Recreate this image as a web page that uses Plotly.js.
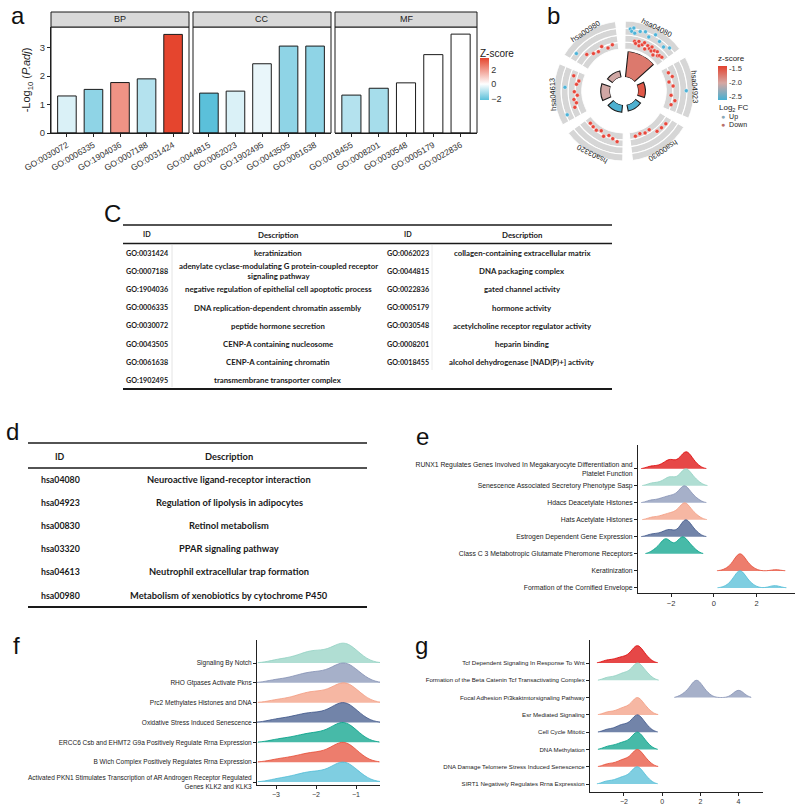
<!DOCTYPE html>
<html><head><meta charset="utf-8">
<script src="https://cdn.plot.ly/plotly-3.0.1.min.js"></script>
<style>html,body{margin:0;padding:0;background:#fff}#chart{width:800px;height:806px}</style>
</head><body><div id="chart"></div>
<script>
const W=800,H=806;
const px=x=>x/W, py=y=>1-y/H;

// ---------- Panel a data ----------
const bpTerms=['GO:0030072','GO:0006335','GO:1904036','GO:0007188','GO:0031424'];
const bpLogP=[1.30,1.53,1.77,1.90,3.46];
const bpZ=[-0.5,-1.5,2.1,-1.0,3.6];
const ccTerms=['GO:0044815','GO:0062023','GO:1902495','GO:0043505','GO:0061638'];
const ccLogP=[1.40,1.47,2.43,3.05,3.05];
const ccZ=[-2.2,-0.5,-0.3,-1.5,-1.5];
const mfTerms=['GO:0018455','GO:0008201','GO:0030548','GO:0005179','GO:0022836'];
const mfLogP=[1.33,1.57,1.76,2.75,3.47];
const mfZ=[-1.0,-1.2,0.0,0.0,0.0];
const facetNames=['BP','CC','MF'];

// ---------- Panel b data ----------
const keggIds=['hsa04080','hsa04923','hsa00830','hsa03320','hsa04613','hsa00980'];
const keggZ=[-1.75,-1.55,-2.6,-2.6,-2.05,-2.05];
const lfc04080=[1.8,1.2,2.2,0.8,-1.5,-2.0,1.6,-1.2,-2.4,2.0,-1.8,-1.0,1.0,-2.6,-1.4,2.4,-1.9,-1.1,-2.2,1.4,-1.6,-2.8,-1.3,0.9,-2.1,-1.7,1.9,-1.5];
const lfc04923=[-2.3,-1.6,-2.9,-1.9,1.8,-2.5,-1.2,-2.0];
const lfc00830=[-0.8,-1.0,-1.1,-2.8,-2.6,-3.0,-2.7];
const lfc03320=[-1.4,-2.0,-2.6,-1.8,-2.9,-2.3,-2.5,-2.7];
const lfc04613=[1.6,-1.2,-2.0,-1.5,-2.6,-1.8,0.9,-2.3,-2.8,-1.0];
const lfc00980=[1.3,-1.1,-2.2,-2.6,-1.8,-2.9,-2.4];
const keggLfc=[lfc04080,lfc04923,lfc00830,lfc03320,lfc04613,lfc00980];
const trackBreaks=[-4,-2,0,2,4];

// ---------- Panel C data ----------
const cIdsL=['GO:0031424','GO:0007188','GO:1904036','GO:0006335','GO:0030072','GO:0043505','GO:0061638','GO:1902495'];
const cDescL=['keratinization','adenylate cyclase-modulating G protein-coupled receptor<br>signaling pathway','negative regulation of epithelial cell apoptotic process','DNA replication-dependent chromatin assembly','peptide hormone secretion','CENP-A containing nucleosome','CENP-A containing chromatin','transmembrane transporter complex'];
const cIdsR=['GO:0062023','GO:0044815','GO:0022836','GO:0005179','GO:0030548','GO:0008201','GO:0018455'];
const cDescR=['collagen-containing extracellular matrix','DNA packaging complex','gated channel activity','hormone activity','acetylcholine receptor regulator activity','heparin binding','alcohol dehydrogenase [NAD(P)+] activity'];

// ---------- Panel d data ----------
const dIds=['hsa04080','hsa04923','hsa00830','hsa03320','hsa04613','hsa00980'];
const dDesc=['Neuroactive ligand-receptor interaction','Regulation of lipolysis in adipocytes','Retinol metabolism','PPAR signaling pathway','Neutrophil extracellular trap formation','Metabolism of xenobiotics by cytochrome P450'];

// ---------- Panel e data (top to bottom) ----------
const eLabels=['RUNX1 Regulates Genes Involved In Megakaryocyte Differentiation and<br>Platelet Function','Senescence Associated Secretory Phenotype Sasp','Hdacs Deacetylate Histones','Hats Acetylate Histones','Estrogen Dependent Gene Expression','Class C 3 Metabotropic Glutamate Pheromone Receptors','Keratinization','Formation of the Cornified Envelope'];
const eRunx1=[-2.95,-2.55,-2.25,-2.12,-2.05,-1.95,-1.75,-1.55,-1.45,-1.38,-1.33,-1.29,-1.25,-1.2,-1.12,-1.0,-0.8];
const eSasp=[-2.9,-2.5,-2.2,-2.1,-2.0,-1.85,-1.6,-1.48,-1.4,-1.35,-1.3,-1.26,-1.2,-1.1,-0.95,-0.75];
const eHdacs=[-2.95,-2.55,-2.3,-2.1,-1.95,-1.8,-1.6,-1.5,-1.44,-1.4,-1.36,-1.32,-1.26,-1.15,-1.0,-0.8];
const eHats=[-2.9,-2.5,-2.25,-2.05,-1.9,-1.75,-1.55,-1.48,-1.43,-1.38,-1.34,-1.3,-1.24,-1.12,-0.98,-0.78];
const eEstrogen=[-2.95,-2.6,-2.3,-2.15,-2.05,-1.9,-1.6,-1.45,-1.4,-1.36,-1.33,-1.3,-1.26,-1.2,-1.1,-0.95,-0.8];
const eClassC=[-2.75,-2.45,-2.32,-2.26,-2.2,-2.1,-1.85,-1.62,-1.52,-1.46,-1.42,-1.34,-1.15,-0.95];
const eKerat=[0.6,0.8,0.9,0.98,1.04,1.08,1.12,1.15,1.18,1.2,1.22,1.24,1.26,1.28,1.31,1.34,1.38,1.43,1.5,1.58,1.7,1.85,2.9];
const eCornified=[0.62,0.82,0.92,1.0,1.05,1.09,1.13,1.16,1.19,1.21,1.23,1.25,1.27,1.3,1.33,1.37,1.42,1.49,1.57,1.68,1.83,2.75,2.95];
const eSamples=[eRunx1,eSasp,eHdacs,eHats,eEstrogen,eClassC,eKerat,eCornified];

// ---------- Panel f data (top to bottom) ----------
const fLabels=['Signaling By Notch','RHO Gtpases Activate Pkns','Prc2 Methylates Histones and DNA','Oxidative Stress Induced Senescence','ERCC6 Csb and EHMT2 G9a Positively Regulate Rrna Expression','B Wich Complex Positively Regulates Rrna Expression','Activated PKN1 Stimulates Transcription of AR Androgen Receptor Regulated<br>Genes KLK2 and KLK3'];
const fNotch=[-2.95,-2.6,-2.35,-2.2,-2.1,-2.0,-1.85,-1.7,-1.55,-1.45,-1.38,-1.33,-1.28,-1.22,-1.15,-1.05,-0.9];
const fRho=[-3.0,-2.6,-2.4,-2.2,-2.1,-1.95,-1.8,-1.65,-1.5,-1.42,-1.36,-1.31,-1.27,-1.2,-1.12,-1.0,-0.85];
const fPrc2=[-2.95,-2.55,-2.35,-2.2,-2.05,-1.95,-1.8,-1.62,-1.5,-1.42,-1.36,-1.31,-1.26,-1.2,-1.12,-1.0,-0.88];
const fOxid=[-3.0,-2.65,-2.4,-2.25,-2.1,-1.95,-1.8,-1.62,-1.5,-1.42,-1.37,-1.33,-1.28,-1.22,-1.15,-1.03,-0.9];
const fErcc6=[-2.95,-2.6,-2.35,-2.2,-2.05,-1.9,-1.75,-1.6,-1.48,-1.42,-1.37,-1.33,-1.28,-1.22,-1.15,-1.05,-0.92];
const fBwich=[-2.95,-2.6,-2.35,-2.2,-2.05,-1.92,-1.75,-1.6,-1.48,-1.42,-1.37,-1.33,-1.28,-1.22,-1.15,-1.05,-0.92];
const fPkn1=[-2.95,-2.6,-2.38,-2.22,-2.08,-1.95,-1.8,-1.62,-1.5,-1.42,-1.37,-1.33,-1.28,-1.22,-1.14,-1.02,-0.88];
const fSamples=[fNotch,fRho,fPrc2,fOxid,fErcc6,fBwich,fPkn1];

// ---------- Panel g data (top to bottom) ----------
const gLabels=['Tcf Dependent Signaling In Response To Wnt','Formation of the Beta Catenin Tcf Transactivating Complex','Focal Adhesion Pi3kaktmtorsignaling Pathway','Esr Mediated Signaling','Cell Cycle Mitotic','DNA Methylation','DNA Damage Telomere Stress Induced Senescence','SIRT1 Negatively Regulates Rrna Expression'];
const gTcf=[-2.9,-2.45,-2.15,-1.95,-1.7,-1.52,-1.42,-1.36,-1.31,-1.26,-1.2,-1.1,-0.95,-0.75];
const gBeta=[-2.85,-2.4,-2.1,-1.95,-1.75,-1.5,-1.4,-1.35,-1.3,-1.25,-1.18,-1.05,-0.9,-0.7];
const gFocal=[1.15,1.45,1.6,1.7,1.77,1.82,1.88,1.96,2.1,2.35,3.85,4.0,4.15];
const gEsr=[-2.85,-2.4,-2.1,-1.95,-1.75,-1.52,-1.42,-1.36,-1.31,-1.26,-1.2,-1.08,-0.92,-0.72];
const gCell=[-2.85,-2.4,-2.15,-2.0,-1.8,-1.55,-1.44,-1.37,-1.32,-1.27,-1.2,-1.1,-0.95,-0.75];
const gDnaMeth=[-2.85,-2.45,-2.15,-1.98,-1.78,-1.55,-1.44,-1.37,-1.32,-1.27,-1.2,-1.1,-0.95,-0.75];
const gDnaDmg=[-2.85,-2.4,-2.1,-1.95,-1.75,-1.52,-1.42,-1.36,-1.31,-1.26,-1.2,-1.08,-0.92,-0.72];
const gSirt1=[-2.9,-2.45,-2.15,-1.98,-1.78,-1.55,-1.45,-1.38,-1.33,-1.28,-1.2,-1.1,-0.95,-0.75];
const gSamples=[gTcf,gBeta,gFocal,gEsr,gCell,gDnaMeth,gDnaDmg,gSirt1];

// ---------- styles ----------
const FONT='Liberation Sans, Arial, sans-serif';
const TFONT='Lato, Liberation Sans, sans-serif';
const npg={red:'#E64B35',blue:'#4DBBD5',teal:'#00A087',navy:'#3C5488',peach:'#F39B7F',lav:'#8491B4',mint:'#91D1C2',dred:'#DC0000'};
const eColors=[npg.dred,npg.mint,npg.lav,npg.peach,npg.navy,npg.teal,npg.red,npg.blue];
const fColors=[npg.mint,npg.lav,npg.peach,npg.navy,npg.teal,npg.red,npg.blue];
const gColors=[npg.dred,npg.mint,npg.lav,npg.peach,npg.navy,npg.teal,npg.red,npg.blue];
function rgba(hex,a){const n=parseInt(hex.slice(1),16);return `rgba(${n>>16},${(n>>8)&255},${n&255},${a})`;}

const zMin=-2.2,zMax=3.6;
const zScale=[[0,'#5bc0da'],[(0-zMin)/(zMax-zMin),'#ffffff'],[1,'#e5452e']];

const traces=[];
const shapes=[];
const annotations=[];
function note(x,y,t,size,opts){annotations.push(Object.assign({xref:'paper',yref:'paper',x:px(x),y:py(y),text:t,showarrow:false,
  xanchor:'center',yanchor:'middle',font:{size:size,color:'#222',family:FONT}},opts||{}));}

// ---------- Panel a ----------
const facets=[[bpTerms,bpLogP,bpZ,'x'],[ccTerms,ccLogP,ccZ,'x2'],[mfTerms,mfLogP,mfZ,'x3']];
facets.forEach((f,i)=>{
  traces.push({type:'bar',x:f[0],y:f[1],xaxis:f[3],yaxis:'y',width:0.7,hoverinfo:'skip',
    marker:{color:f[2],colorscale:zScale,cmin:zMin,cmax:zMax,showscale:i===0,
      line:{color:'#1a1a1a',width:1},
      colorbar:{x:px(480),xanchor:'left',y:py(79),yanchor:'middle',thickness:9,lenmode:'pixels',len:42,ypad:0,xpad:0,
        outlinewidth:0,ticks:'',tickvals:[-2,0,2],tickfont:{size:9,color:'#333',family:FONT}}}});
});
note(478,53,'Z-score',10,{xanchor:'left'});
const facetDom=[[51,189],[193,331],[335,477]];
const xAxBase={type:'category',range:[-0.6,4.6],anchor:'y',tickangle:-30,ticks:'outside',ticklen:3,tickcolor:'#222',
  tickfont:{size:8.5,color:'#333',family:FONT},showline:true,linecolor:'#222',linewidth:1,showgrid:false,zeroline:false,fixedrange:true};
const layoutAxes={};
['xaxis','xaxis2','xaxis3'].forEach((k,i)=>{
  layoutAxes[k]=Object.assign({},xAxBase,{domain:[px(facetDom[i][0]),px(facetDom[i][1])]});
  const ref=(i===0?'x':'x'+(i+1))+' domain';
  shapes.push({type:'rect',xref:ref,yref:'y domain',x0:0,x1:1,y0:0,y1:1,line:{color:'#1a1a1a',width:1}});
  shapes.push({type:'rect',xref:ref,yref:'paper',x0:0,x1:1,y0:py(27),y1:py(12),fillcolor:'#d9d9d9',line:{color:'#1a1a1a',width:1}});
  annotations.push({xref:ref,yref:'paper',x:0.5,y:py(19.5),text:facetNames[i],showarrow:false,font:{size:9,color:'#222',family:FONT},xanchor:'center',yanchor:'middle'});
});
layoutAxes.yaxis={domain:[py(133),py(27)],range:[0,3.72],anchor:'x',tickvals:[0,1,2,3],ticks:'outside',ticklen:3,tickcolor:'#222',
  tickfont:{size:9.5,color:'#333',family:FONT},showline:true,linecolor:'#222',showgrid:false,zeroline:false,
  title:{text:'-Log<sub>10</sub> (<i>P.adj</i>)',font:{size:11,color:'#222',family:FONT},standoff:6}};

// ---------- Panel b ----------
const cxB=624,cyB=91,rOut=70,rInner=40;
const secW=52;
const secCenters=keggIds.map((_,i)=>27+60*i);
const tTheta=[],tBase=[],tR=[];
secCenters.forEach(c=>{for(let k=0;k<trackBreaks.length-1;k++){tTheta.push(c);tBase.push(trackBreaks[k]);tR.push(trackBreaks[k+1]-trackBreaks[k]);}});
traces.push({type:'barpolar',subplot:'polar',theta:tTheta,r:tR,base:tBase,width:secW,hoverinfo:'skip',
  marker:{color:'#d6d6d6',line:{color:'#ffffff',width:1.1}},showlegend:false});
const pTheta=[],pR=[],pCol=[];
keggLfc.forEach((arr,i)=>{const n=arr.length;arr.forEach((v,j)=>{pTheta.push(secCenters[i]-secW/2+4+(secW-8)*(j+0.5)/n);pR.push(v);pCol.push(v>0?'#4db3d8':'#e8473b');});});
traces.push({type:'scatterpolar',subplot:'polar',mode:'markers',theta:pTheta,r:pR,hoverinfo:'skip',
  marker:{size:4,color:pCol,line:{color:'#ffffff',width:0.4}},showlegend:false});
const bScale=[[0,'#47b0d2'],[0.5,'#d6a7a2'],[1,'#e3412e']];
traces.push({type:'barpolar',subplot:'polar2',theta:secCenters,r:keggLfc.map(a=>a.length),width:42,hoverinfo:'skip',
  marker:{color:keggZ,colorscale:bScale,cmin:-2.63,cmax:-1.42,showscale:true,line:{color:'#1a1a1a',width:1.1},
    colorbar:{x:px(718),xanchor:'left',y:py(83),yanchor:'middle',thickness:9,lenmode:'pixels',len:34,ypad:0,xpad:0,outlinewidth:0,ticks:'',
      tickvals:[-1.5,-2.0,-2.5],ticktext:['-1.5','-2.0','-2.5'],tickfont:{size:7.5,color:'#333',family:FONT}}},showlegend:false});
note(716,59,'z-score',8,{xanchor:'left'});
keggIds.forEach((id,i)=>{
  const a=secCenters[i]*Math.PI/180;const r=71;
  let ang=secCenters[i];if(ang>180)ang-=360;
  note(cxB+r*Math.sin(a),cyB-r*Math.cos(a),id,7.5,{textangle:ang});
});
note(717,108,'Log<sub>2</sub> FC',8,{xanchor:'left'});
note(719,116.5,'<span style="color:#8aa9b8">●</span>  Up',7,{xanchor:'left'});
note(719,124,'<span style="color:#b9716b">●</span>  Down',7,{xanchor:'left'});

// ---------- Tables ----------
function tText(x,y,t,size){annotations.push({xref:'paper',yref:'paper',x:px(x),y:py(y),text:t,showarrow:false,xanchor:'center',yanchor:'middle',
  font:{size:size,color:'#1a1a1a',family:TFONT,weight:'bold'}});}
function hline(x0,x1,y,w,c){shapes.push({type:'line',xref:'paper',yref:'paper',x0:px(x0),x1:px(x1),y0:py(y),y1:py(y),line:{color:c||'#1a1a1a',width:w}});}
function vline(x,y0,y1,c){shapes.push({type:'line',xref:'paper',yref:'paper',x0:px(x),x1:px(x),y0:py(y0),y1:py(y1),line:{color:c,width:1}});}
const cRow0=253,cRowH=18.2,cIdSize=7.2,cDescSize=7.8;
hline(123,612,225,1.6);hline(123,612,243.5,1.3);hline(123,612,389,1.8);
vline(172,245,387,'#e4e4e4');vline(432,245,370,'#ececec');
tText(147,234.5,'ID',cIdSize);tText(278,234.5,'Description',cDescSize);tText(408,234.5,'ID',cIdSize);tText(522,234.5,'Description',cDescSize);
cIdsL.forEach((t,i)=>{tText(147,cRow0+i*cRowH,t,cIdSize);tText(278,cRow0+i*cRowH,cDescL[i],cDescSize);});
cIdsR.forEach((t,i)=>{tText(408,cRow0+i*cRowH,t,cIdSize);tText(522,cRow0+i*cRowH,cDescR[i],cDescSize);});
const dRow0=479,dRowH=23.2,dIdSize=8.8,dDescSize=9.3;
hline(28,367,443,1.6);hline(28,367,468,1.3);hline(28,367,607,1.8);
tText(60,456,'ID',dIdSize);tText(229,456,'Description',dDescSize);
dIds.forEach((t,i)=>{tText(60,dRow0+i*dRowH,t,dIdSize);tText(229,dRow0+i*dRowH,dDesc[i],dDescSize);});

// ---------- Ridges ----------
function ridge(labels,samples,colors,xa,ya,bw,width){
  labels.forEach((lab,i)=>{
    traces.push({type:'violin',orientation:'h',side:'positive',x:samples[i],y:samples[i].map(()=>lab),xaxis:xa,yaxis:ya,
      width:width,scalegroup:xa,scalemode:'width',bandwidth:bw,points:false,box:{visible:false},meanline:{visible:false},
      fillcolor:rgba(colors[i],0.72),line:{color:colors[i],width:0.8},hoverinfo:'skip',showlegend:false});
  });
}
ridge(eLabels,eSamples,eColors,'x4','y4',0.22,2.0);
ridge(fLabels,fSamples,fColors,'x5','y5',0.25,2.0);
ridge(gLabels,gSamples,gColors,'x6','y6',0.25,2.0);
function rx(dom,range,ya,tv,fs){return {domain:[px(dom[0]),px(dom[1])],range:range,anchor:ya,tickvals:tv,ticks:'outside',ticklen:3,tickcolor:'#222',
  tickfont:{size:fs,color:'#333',family:FONT},showline:true,linecolor:'#222',showgrid:false,zeroline:false};}
function ry(dom,range,xa,cats,fs){return {domain:[py(dom[1]),py(dom[0])],range:range,anchor:xa,type:'category',categoryorder:'array',categoryarray:cats,
  ticks:'outside',ticklen:3,tickcolor:'#222',tickfont:{size:fs,color:'#1a1a1a',family:FONT},showline:true,linecolor:'#222',showgrid:false,zeroline:false};}
layoutAxes.xaxis4=rx([638,795],[-3.55,3.8],'y4',[-2,0,2],7.5);
layoutAxes.yaxis4=ry([445,593],[-0.3,8.4],'x4',eLabels.slice().reverse(),6.8);
layoutAxes.xaxis5=rx([257,380],[-3.475,-0.4],'y5',[-3,-2,-1],7);
layoutAxes.yaxis5=ry([640,785],[-0.15,7.16],'x5',fLabels.slice().reverse(),6.5);
layoutAxes.xaxis6=rx([590,763],[-3.78,5.28],'y6',[-2,0,2,4],7);
layoutAxes.yaxis6=ry([640,792],[-0.46,8.33],'x6',gLabels.slice().reverse(),6.1);

// ---------- Panel letters ----------
[['a',18,16],['b',553,16],['C',112,213],['d',12,432],['e',422,436],['f',16,645],['g',421,645]].forEach(l=>{
  note(l[1],l[2],l[0],24,{font:{size:24,color:'#111',family:FONT}});
});

const layout=Object.assign({
  width:W,height:H,margin:{l:0,r:0,t:0,b:0,pad:0},paper_bgcolor:'#ffffff',plot_bgcolor:'rgba(0,0,0,0)',
  showlegend:false,violinmode:'overlay',font:{family:FONT,color:'#222'},
  polar:{domain:{x:[px(cxB-rOut),px(cxB+rOut)],y:[py(cyB+rOut),py(cyB-rOut)]},hole:0.6,bgcolor:'rgba(0,0,0,0)',
    radialaxis:{visible:false,range:[trackBreaks[0],trackBreaks[trackBreaks.length-1]]},
    angularaxis:{visible:false,rotation:90,direction:'clockwise',showgrid:false,showline:false}},
  polar2:{domain:{x:[px(cxB-rInner),px(cxB+rInner)],y:[py(cyB+rInner),py(cyB-rInner)]},hole:0.35,bgcolor:'rgba(0,0,0,0)',
    radialaxis:{visible:false,range:[0,28]},
    angularaxis:{visible:false,rotation:90,direction:'clockwise',showgrid:false,showline:false}},
  shapes:shapes,annotations:annotations
},layoutAxes);

Plotly.newPlot('chart',traces,layout,{staticPlot:true,displayModeBar:false});
</script></body></html>
